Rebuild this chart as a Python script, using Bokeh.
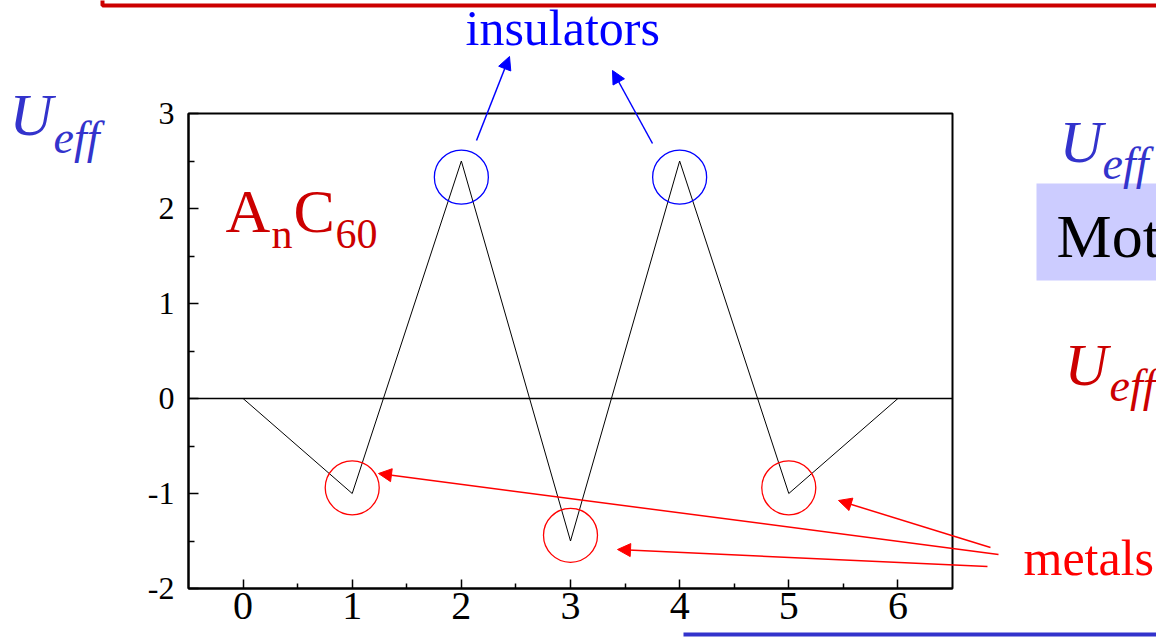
from bokeh.plotting import figure
from bokeh.models import Label, Arrow, NormalHead, BoxAnnotation, Span, FixedTicker, Range1d
from bokeh.embed import file_html
from bokeh.resources import INLINE

# number of alkali ions n in A_n C60 and the effective Hubbard U
n_values = [0, 1, 2, 3, 4, 5, 6]
u_eff = [0, -1, 2.5, -1.5, 2.5, -1, 0]
x_ticks = [0, 1, 2, 3, 4, 5, 6]
y_ticks = [-2, -1, 0, 1, 2, 3]
insulator_idx = [2, 4]
metal_idx = [1, 3, 5]

W, H = 1156, 637
LEFT, RIGHT, TOP, BOTTOM = 188, 952, 113, 588
SERIF = "Liberation Serif"
PIN = {"position": "absolute", "left": "0px", "top": "0px"}

# ---- the chart itself ----
p = figure(width=W, height=H, x_range=(-0.5, 6.5), y_range=(-2, 3),
           output_backend="svg", toolbar_location=None,
           min_border_left=LEFT, min_border_right=W - RIGHT,
           min_border_top=TOP, min_border_bottom=H - BOTTOM)
p.styles = PIN
p.grid.visible = False
p.outline_line_color = "black"
p.outline_line_width = 2
p.background_fill_color = "white"
p.border_fill_color = "white"

p.xaxis.ticker = FixedTicker(ticks=x_ticks, minor_ticks=[t + 0.5 for t in x_ticks[:-1]])
p.yaxis.ticker = FixedTicker(ticks=y_ticks, minor_ticks=[t + 0.5 for t in y_ticks[:-1]])
p.yaxis.major_label_overrides = {t: str(t) for t in y_ticks}
for ax in (p.xaxis, p.yaxis):
    ax.axis_line_color = "black"
    ax.axis_line_width = 2
    ax.major_tick_line_color = "black"
    ax.major_tick_line_width = 1.5
    ax.minor_tick_line_color = "black"
    ax.minor_tick_line_width = 1.5
    ax.major_tick_out = 0
    ax.minor_tick_out = 0
    ax.major_label_text_font = SERIF
    ax.major_label_text_color = "black"
p.xaxis.major_tick_in = 9
p.xaxis.minor_tick_in = 5
p.xaxis.major_label_text_font_size = "40px"
p.xaxis.major_label_standoff = 4
p.yaxis.major_tick_in = 10
p.yaxis.minor_tick_in = 6
p.yaxis.major_label_text_font_size = "32px"
p.yaxis.major_label_standoff = 14

p.add_layout(Span(location=0, dimension="width", line_color="black", line_width=1.5))

p.line(n_values, u_eff, line_color="black", line_width=1)

# circled points: insulators (blue) and metals (red)
p.scatter([n_values[i] for i in insulator_idx], [u_eff[i] - 0.17 for i in insulator_idx],
          marker="circle", size=54, fill_alpha=0, line_color="#0000FF", line_width=1.3)
p.scatter([n_values[i] for i in metal_idx], [u_eff[i] + 0.06 for i in metal_idx],
          marker="circle", size=54, fill_alpha=0, line_color="#FF0000", line_width=1.3)

# ---- slide layer on top: labels, arrows, frame pieces (pixel coordinates) ----
ov = figure(width=W, height=H, x_range=Range1d(0, W), y_range=Range1d(H, 0),
            output_backend="svg", toolbar_location=None,
            x_axis_type=None, y_axis_type=None, min_border=0)
ov.styles = PIN
ov.grid.visible = False
ov.outline_line_color = None
ov.background_fill_alpha = 0
ov.border_fill_alpha = 0


def label(text, x, baseline, size, color, style="normal"):
    # shift the anchor so that the glyph baseline lands on `baseline` (pixels from top)
    ov.add_layout(Label(x=x, y=baseline - 0.316 * size, text=text, text_font=SERIF,
                        text_font_size=f"{size}px", text_color=color,
                        text_font_style=style, text_align="left",
                        text_baseline="alphabetic"))


def arrow(x0, y0, x1, y1, color):
    ov.add_layout(Arrow(x_start=x0, y_start=y0, x_end=x1, y_end=y1,
                        line_color=color, line_width=1.5,
                        end=NormalHead(size=13, fill_color=color, line_color=color)))


ov.add_layout(BoxAnnotation(left=102, right=1200, top=-60, bottom=5,
                            fill_alpha=0, line_color="#CC0000", line_alpha=1, line_width=4))
ov.add_layout(BoxAnnotation(left=683, right=1200, top=632, bottom=636,
                            fill_color="#3333CC", fill_alpha=1, line_alpha=0))
ov.add_layout(BoxAnnotation(left=1036, right=1200, top=183, bottom=280,
                            fill_color="#CCCCFF", fill_alpha=1, line_alpha=0))

label("insulators", 465, 43, 50, "#0000FF")
label("metals", 1023, 573, 50, "#FF0000")

label("U", 9, 133, 60, "#3333CC", "italic")
label("eff", 53, 152, 46, "#3333CC", "italic")
label("U", 1059, 160, 60, "#3333CC", "italic")
label("eff", 1102, 178, 46, "#3333CC", "italic")
label("U", 1064, 383, 60, "#CC0000", "italic")
label("eff", 1109, 400, 46, "#CC0000", "italic")
label("Mott", 1056, 255, 62, "black")

label("A", 225, 230, 62, "#CC0000")
label("n", 271, 247, 42, "#CC0000")
label("C", 293, 230, 62, "#CC0000")
label("60", 335, 247, 42, "#CC0000")

arrow(476, 140, 509, 56, "#0000FF")
arrow(652, 143, 612, 70, "#0000FF")
arrow(998, 554, 378, 473, "#FF0000")
arrow(987, 566, 617, 549, "#FF0000")
arrow(990, 547, 838, 500, "#FF0000")

open("out.html", "w").write(file_html([p, ov], INLINE))
